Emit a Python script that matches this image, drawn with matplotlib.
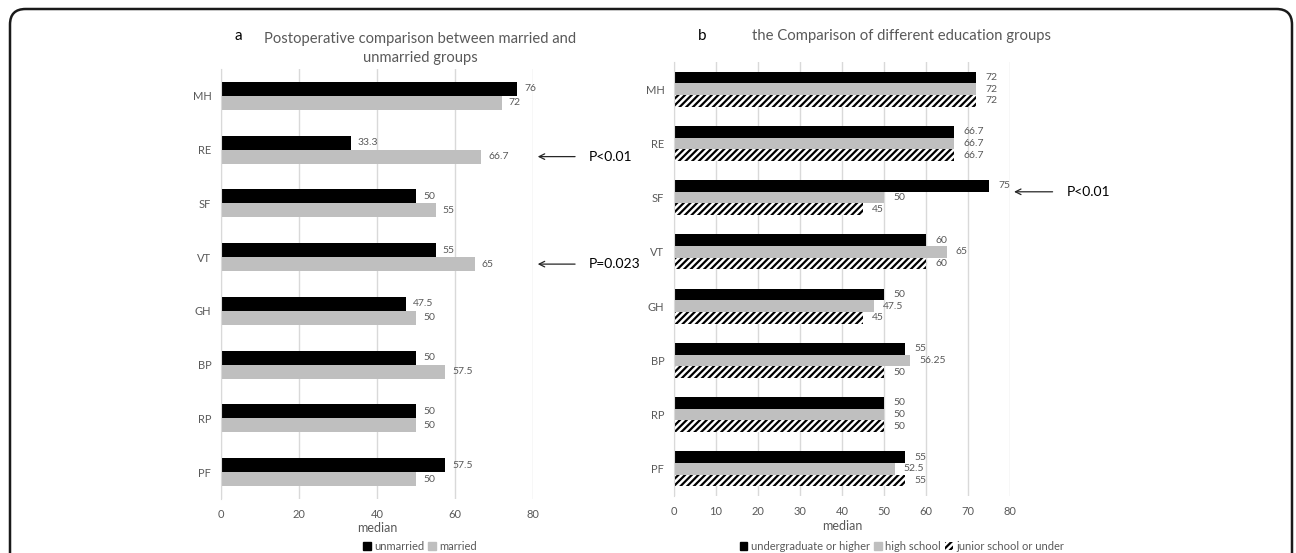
import numpy as np
import matplotlib
matplotlib.use("Agg")
import matplotlib.pyplot as plt
from matplotlib.patches import FancyBboxPatch, Patch

plt.rcParams['font.family'] = ['Lato', 'DejaVu Sans']
plt.rcParams['hatch.linewidth'] = 1.6

categories = ['MH', 'RE', 'SF', 'VT', 'GH', 'BP', 'RP', 'PF']

# panel a
unmarried = [76, 33.3, 50, 55, 47.5, 50, 50, 57.5]
married = [72, 66.7, 55, 65, 50, 57.5, 50, 50]
unmarried_lbl = ['76', '33.3', '50', '55', '47.5', '50', '50', '57.5']
married_lbl = ['72', '66.7', '55', '65', '50', '57.5', '50', '50']

# panel b
undergrad = [72, 66.7, 75, 60, 50, 55, 50, 55]
high_school = [72, 66.7, 50, 65, 47.5, 56.25, 50, 52.5]
junior = [72, 66.7, 45, 60, 45, 50, 50, 55]
undergrad_lbl = ['72', '66.7', '75', '60', '50', '55', '50', '55']
high_school_lbl = ['72', '66.7', '50', '65', '47.5', '56.25', '50', '52.5']
junior_lbl = ['72', '66.7', '45', '60', '45', '50', '50', '55']

GRAY = '#bfbfbf'
TXT = '#595959'
GRID = '#d9d9d9'
HATCH = '/////'

W, H = 1296, 553
fig = plt.figure(figsize=(W / 100, H / 100), dpi=100)

# rounded frame around the whole figure (cut off at the bottom)
frame = FancyBboxPatch((10 / W, -0.1), 1282 / W, 1.1 - 9 / H,
                       boxstyle="round,pad=0,rounding_size=0.012",
                       transform=fig.transFigure, fill=False,
                       edgecolor='#1a1a1a', linewidth=1.8, mutation_aspect=W / H)
fig.patches.append(frame)


def fx(px):
    return px / W


def fy(py):
    return 1 - py / H


def style_axis(ax, ticks, xmax):
    ax.set_xlim(0, xmax)
    ax.set_ylim(len(categories) - 0.5, -0.5)
    ax.set_xticks(ticks)
    ax.set_yticks(np.arange(len(categories)))
    ax.set_yticklabels(categories)
    ax.grid(axis='x', color=GRID, linewidth=1)
    ax.set_axisbelow(True)
    for s in ['top', 'right', 'bottom']:
        ax.spines[s].set_visible(False)
    ax.spines['left'].set_color(GRID)
    ax.tick_params(axis='both', length=0, labelsize=8, labelcolor=TXT)
    ax.tick_params(axis='y', pad=7)
    ax.tick_params(axis='x', pad=7)
    ax.set_xlabel('median', fontsize=9, color=TXT, labelpad=2)


def value_labels(ax, ys, vals, labels, dx):
    for y, v, t in zip(ys, vals, labels):
        ax.annotate(t, (v, y), xytext=(dx, 0), textcoords='offset pixels',
                    ha='left', va='center', fontsize=7.5, color=TXT)


y = np.arange(len(categories))

# ---- panel a ----
ax1 = fig.add_axes([fx(221), fy(499), fx(533) - fx(221), fy(69) - fy(499)])
h1 = 0.26
ax1.barh(y - h1 / 2, unmarried, height=h1, color='black')
ax1.barh(y + h1 / 2, married, height=h1, color=GRAY)
value_labels(ax1, y - h1 / 2, unmarried, unmarried_lbl, 7)
value_labels(ax1, y + h1 / 2, married, married_lbl, 7)
style_axis(ax1, [0, 20, 40, 60, 80], 80)

fig.text(fx(238), fy(36), 'a', fontsize=11, ha='center', va='center')
fig.text(fx(420), fy(48.5), 'Postoperative comparison between married and\nunmarried groups',
         fontsize=10.6, ha='center', va='center', color=TXT, linespacing=1.4)

for yy, lab in [(1 + h1 / 2, 'P<0.01'), (3 + h1 / 2, 'P=0.023')]:
    ax1.annotate('', xy=(80.5, yy), xytext=(91.5, yy), annotation_clip=False,
                 arrowprops=dict(arrowstyle='->', color='#262626', lw=0.9))
    ax1.text(94.2, yy, lab, fontsize=10, ha='left', va='center', clip_on=False)

fig.legend(handles=[Patch(color='black'), Patch(color=GRAY)],
           labels=['unmarried', 'married'], loc='center',
           bbox_to_anchor=(fx(420), fy(546)), ncol=2, frameon=False,
           fontsize=8, handlelength=0.7, handleheight=0.7,
           handletextpad=0.3, columnspacing=0.4, labelcolor=TXT,
           borderpad=0.1)

# ---- panel b ----
ax2 = fig.add_axes([fx(674), fy(496), fx(1010) - fx(674), fy(62) - fy(496)])
h2 = 0.215
ax2.barh(y - h2, undergrad, height=h2, color='black')
ax2.barh(y, high_school, height=h2, color=GRAY)
ax2.barh(y + h2, junior, height=h2, color='white', edgecolor='black',
         hatch=HATCH, linewidth=0)
value_labels(ax2, y - h2, undergrad, undergrad_lbl, 9)
value_labels(ax2, y, high_school, high_school_lbl, 9)
value_labels(ax2, y + h2, junior, junior_lbl, 9)
style_axis(ax2, np.arange(0, 81, 10), 80)

fig.text(fx(702), fy(36), 'b', fontsize=11, ha='center', va='center')
fig.text(fx(902), fy(36), 'the Comparison of different education groups',
         fontsize=10.7, ha='center', va='center', color=TXT)

ax2.annotate('', xy=(80.3, 2 - h2 / 2), xytext=(90.8, 2 - h2 / 2), annotation_clip=False,
             arrowprops=dict(arrowstyle='->', color='#262626', lw=0.9))
ax2.text(93.6, 2 - h2 / 2, 'P<0.01', fontsize=10, ha='left', va='center', clip_on=False)

fig.legend(handles=[Patch(color='black'), Patch(color=GRAY),
                    Patch(facecolor='white', edgecolor='black', hatch=HATCH, linewidth=0)],
           labels=['undergraduate or higher', 'high school', 'junior school or under'],
           loc='center', bbox_to_anchor=(fx(902), fy(546)), ncol=3, frameon=False,
           fontsize=8, handlelength=0.7, handleheight=0.7,
           handletextpad=0.3, columnspacing=0.4, labelcolor=TXT,
           borderpad=0.1)

fig.savefig('out.png', dpi=100)
